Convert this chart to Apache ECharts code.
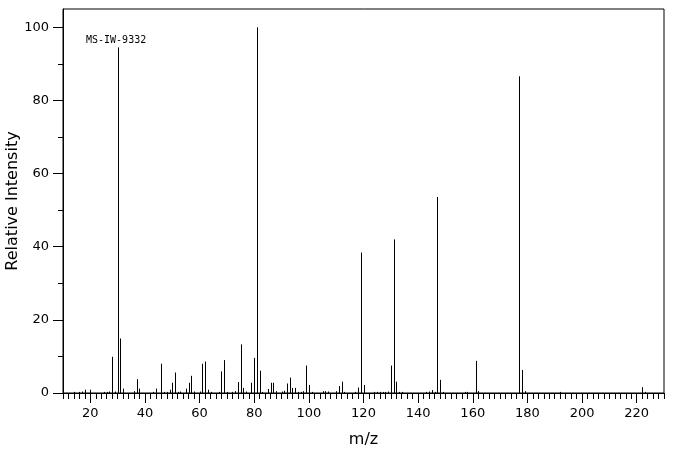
<!DOCTYPE html>
<html>
<head>
<meta charset="utf-8">
<script src="https://cdn.jsdelivr.net/npm/echarts@6/dist/echarts.min.js"></script>
<style>
  html, body { margin: 0; padding: 0; background: #fff; }
  #chart { width: 676px; height: 455px; }
</style>
</head>
<body>
<div id="chart"></div>
<script>
// peaks: m/z and relative intensity
var mzValues = [14, 16, 17, 18, 20, 25, 26, 27, 28, 29, 30, 31, 32, 36, 37, 38, 43, 44, 46, 47,
  48, 49, 50, 51, 52, 53, 55, 56, 57, 58, 60, 61, 62, 63, 64, 67, 68, 69, 70, 72,
  73, 74, 75, 76, 77, 79, 80, 81, 82, 83, 85, 86, 87, 88, 90, 91, 92, 93, 94, 95,
  96, 97, 98, 99, 100, 101, 105, 106, 107, 110, 111, 112, 113, 117, 118, 119, 120, 124, 125, 126,
  127, 128, 129, 130, 131, 132, 133, 134, 143, 144, 145, 146, 147, 148, 149, 157, 158, 161, 162, 177,
  178, 179, 192, 222, 223]
var intensities = [0.3, 0.3, 0.4, 0.9, 0.9, 0.3, 0.3, 0.4, 9.9, 0.4, 94.5, 14.9, 1.2, 0.5, 3.8, 1.2, 0.3, 1.2, 8.0, 0.3,
  0.3, 0.9, 2.8, 5.6, 0.3, 0.4, 1.2, 2.8, 4.7, 0.4, 0.4, 8.0, 8.6, 0.9, 0.3, 0.3, 5.9, 9.0, 0.3, 0.3,
  0.5, 3.0, 13.3, 1.4, 0.4, 2.8, 9.6, 100, 6.1, 0.3, 1.1, 2.8, 2.8, 0.5, 0.4, 0.6, 2.6, 4.2, 1.4, 1.4,
  0.3, 0.3, 0.5, 7.5, 2.2, 0.3, 0.5, 0.5, 0.4, 0.5, 1.9, 3.1, 0.3, 0.3, 1.5, 38.4, 2.2, 0.3, 0.3, 0.3,
  0.3, 0.3, 0.4, 7.5, 42.0, 3.1, 0.3, 0.3, 0.3, 0.4, 0.8, 0.3, 53.6, 3.6, 0.3, 0.3, 0.3, 8.8, 0.5, 86.6,
  6.3, 0.5, 0.3, 1.6, 0.3]

var xLabels = [20, 40, 60, 80, 100, 120, 140, 160, 180, 200, 220]
var yLabels = [0, 20, 40, 60, 80, 100]
var yMinorTicks = [10, 30, 50, 70, 90]
var xMinorTicks = []
for (var t = 10; t <= 230; t += 2) xMinorTicks.push(t)

var peaks = mzValues.map(function (m, i) { return [m, intensities[i]] })

var chart = echarts.init(document.getElementById('chart'))
var option = {
  animation: false,
  grid: {
    left: 63, right: 12, top: 9, bottom: 62,
    outerBoundsMode: 'none',
    containLabel: false,
    show: true,
    borderColor: '#000',
    borderWidth: 1
  },
  graphic: [{
    type: 'text',
    left: 86,
    top: 35,
    style: {
      text: 'MS-IW-9332',
      fill: '#000',
      font: '10px "DejaVu Sans Mono"'
    }
  }],
  xAxis: [
    {
      type: 'value',
      min: 10,
      max: 230,
      name: 'm/z',
      nameLocation: 'middle',
      nameGap: 39,
      nameMoveOverlap: false,
      nameTextStyle: { color: '#000', fontSize: 16, fontFamily: 'DejaVu Sans' },
      splitLine: { show: false },
      axisLine: { lineStyle: { color: '#000' } },
      axisTick: { customValues: xLabels, length: 10, lineStyle: { color: '#000' } },
      axisLabel: { customValues: xLabels, margin: 14, color: '#000', fontSize: 13, fontFamily: 'DejaVu Sans' }
    },
    {
      type: 'value',
      min: 10,
      max: 230,
      position: 'bottom',
      splitLine: { show: false },
      axisLine: { show: false },
      axisTick: { customValues: xMinorTicks, length: 6, lineStyle: { color: '#000' } },
      axisLabel: { show: false }
    }
  ],
  yAxis: [
    {
      type: 'value',
      min: 0,
      max: 105,
      name: 'Relative Intensity',
      nameLocation: 'middle',
      nameGap: 42,
      nameMoveOverlap: false,
      nameTextStyle: { color: '#000', fontSize: 16, fontFamily: 'DejaVu Sans' },
      splitLine: { show: false },
      axisLine: { show: true, lineStyle: { color: '#000' } },
      axisTick: { customValues: yLabels, length: 10, lineStyle: { color: '#000' } },
      axisLabel: { customValues: yLabels, margin: 14, color: '#000', fontSize: 13, fontFamily: 'DejaVu Sans' }
    },
    {
      type: 'value',
      min: 0,
      max: 105,
      position: 'left',
      splitLine: { show: false },
      axisLine: { show: false },
      axisTick: { customValues: yMinorTicks, length: 5, lineStyle: { color: '#000' } },
      axisLabel: { show: false }
    }
  ],
  series: [{
    type: 'custom',
    xAxisIndex: 0,
    yAxisIndex: 0,
    data: peaks,
    renderItem: function (params, api) {
      var top = api.coord([api.value(0), api.value(1)])
      var base = api.coord([api.value(0), 0])
      var x = Math.round(top[0]) + 0.5
      return {
        type: 'line',
        shape: { x1: x, y1: base[1], x2: x, y2: top[1] },
        style: { stroke: '#000', lineWidth: 1 }
      }
    }
  }]
}
chart.setOption(option)
</script>
</body>
</html>
